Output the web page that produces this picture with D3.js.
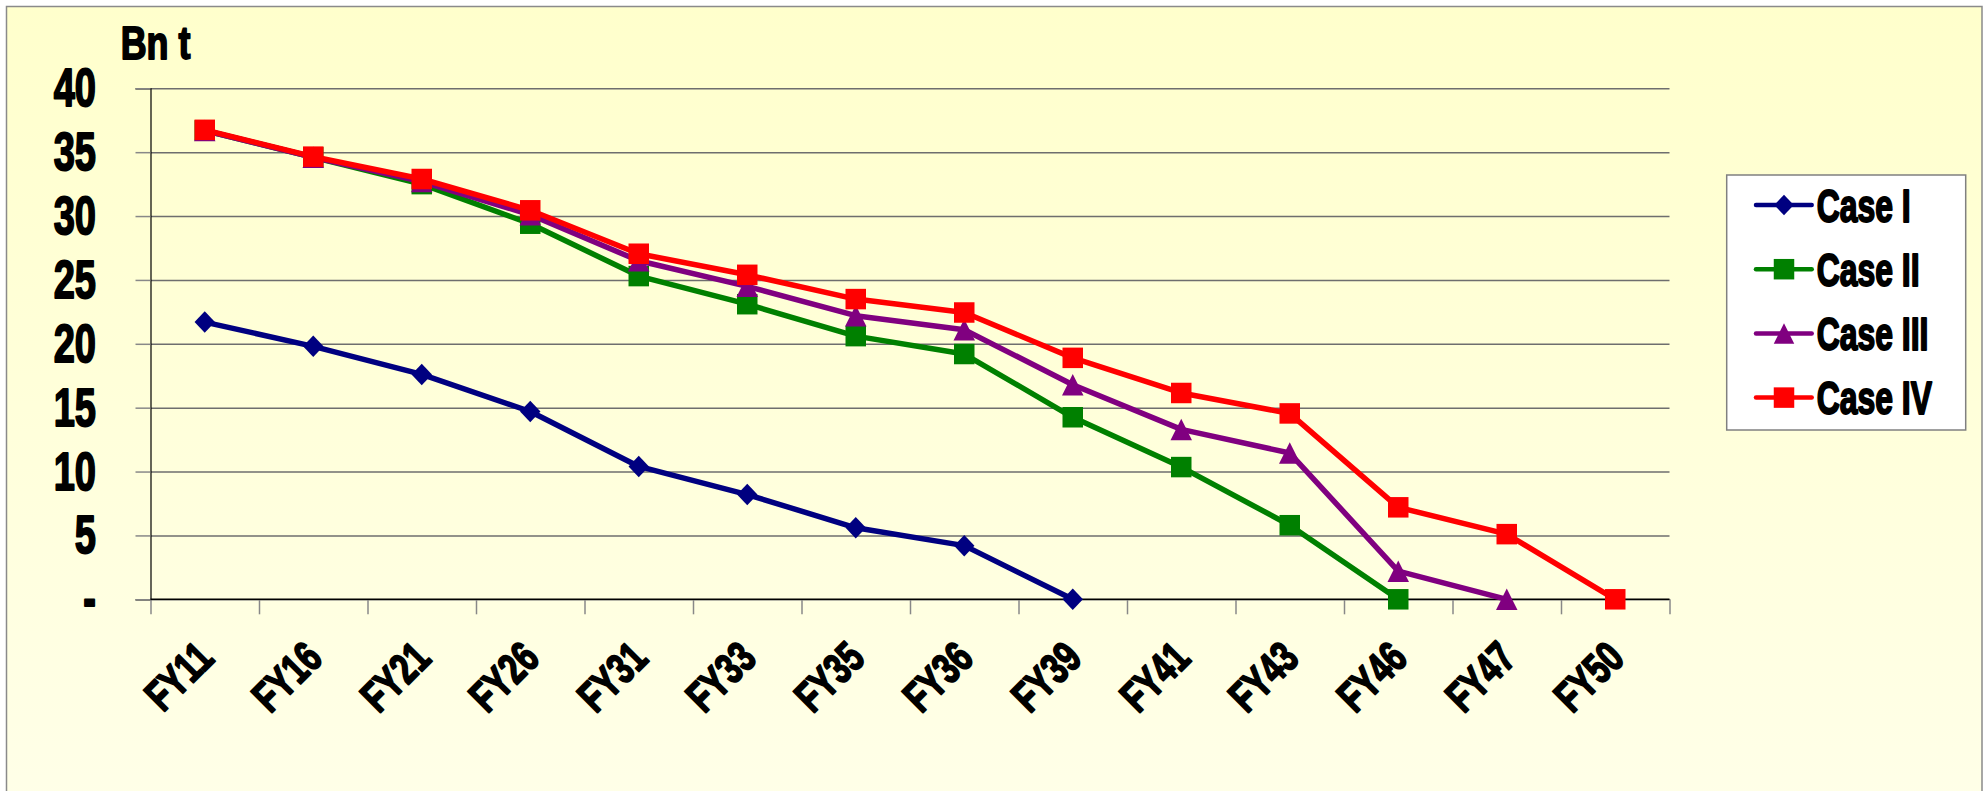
<!DOCTYPE html>
<html>
<head>
<meta charset="utf-8">
<script src="https://cdn.jsdelivr.net/npm/d3@7"></script>
<style>
  html, body { margin: 0; padding: 0; background: #ffffff; }
  svg { display: block; }
  .lbl { font-family: "Liberation Sans", Arial, sans-serif; font-weight: bold; fill: #000;
         stroke: #000; stroke-width: 1.8px; stroke-linejoin: round; paint-order: stroke; }
</style>
</head>
<body>
<svg id="chart" width="1988" height="791"></svg>
<script>
// Fiscal years along the category axis
const categories = ["FY11", "FY16", "FY21", "FY26", "FY31", "FY33", "FY35",
                    "FY36", "FY39", "FY41", "FY43", "FY46", "FY47", "FY50"];

// Series values (Bn t); null where a series has already ended
const caseI   = [21.7, 19.8, 17.6, 14.7, 10.4, 8.2, 5.6, 4.2, 0, null, null, null, null, null];
const caseII  = [36.7, 34.6, 32.5, 29.4, 25.3, 23.1, 20.6, 19.2, 14.25, 10.35, 5.8, 0, null, null];
const caseIII = [36.7, 34.6, 32.7, 30.1, 26.5, 24.5, 22.2, 21.1, 16.8, 13.3, 11.45, 2.2, 0, null];
const caseIV  = [36.75, 34.65, 32.9, 30.45, 27.05, 25.4, 23.5, 22.45, 18.9, 16.15, 14.55, 7.2, 5.1, 0];

const seriesNames = ["Case I", "Case II", "Case III", "Case IV"];
const yTicks = [0, 5, 10, 15, 20, 25, 30, 35, 40];
const yUnit = "Bn t";

const seriesValues = [caseI, caseII, caseIII, caseIV];
const seriesColors = ["#000080", "#008000", "#800080", "#ff0000"];
const seriesMarkers = ["diamond", "square", "triangle", "square"];

const svg = d3.select("#chart");

// Chart area background with a soft vertical fade
const defs = svg.append("defs");
const grad = defs.append("linearGradient").attr("id", "bg")
  .attr("x1", 0).attr("y1", 0).attr("x2", 0).attr("y2", 1);
grad.append("stop").attr("offset", "0%").attr("stop-color", "#ffffcc");
grad.append("stop").attr("offset", "100%").attr("stop-color", "#ffffe8");

svg.append("rect")
  .attr("x", 6.5).attr("y", 6.5).attr("width", 1975.5).attr("height", 800)
  .attr("fill", "url(#bg)").attr("stroke", "#8a8a8a").attr("stroke-width", 1.5);

// Plot geometry
const plotLeft = 150.5, plotRight = 1669.5, plotTop = 88.3, plotBottom = 599.3;

const y = d3.scaleLinear().domain([0, 40]).range([plotBottom, plotTop]);
const xBand = d3.scaleBand().domain(categories).range([plotLeft, plotRight]);
const xEdge = d3.scaleLinear().domain([0, categories.length]).range([plotLeft, plotRight]);
const xc = i => xBand(categories[i]) + xBand.bandwidth() / 2;

// Horizontal gridlines
const grid = svg.append("g").attr("transform", `translate(${plotLeft},0)`)
  .call(d3.axisRight(y).tickValues(yTicks).tickSize(plotRight - plotLeft).tickFormat(""));
grid.select(".domain").remove();
grid.selectAll(".tick line").attr("stroke", "#6e6e6e").attr("stroke-width", 1.5);

// Y axis with outward ticks and labels
const yAxis = svg.append("g").attr("transform", `translate(${plotLeft},0)`)
  .call(d3.axisLeft(y).tickValues(yTicks).tickSize(15)
        .tickFormat(d => d === 0 ? "-" : String(d)));
yAxis.select(".domain").attr("stroke", "#000").attr("stroke-width", 1.2);
yAxis.selectAll(".tick line").attr("stroke", "#888").attr("stroke-width", 1.5);
yAxis.selectAll(".tick text")
  .attr("class", "lbl")
  .attr("x", 0).attr("y", 0).attr("dy", null)
  .attr("text-anchor", "end")
  .attr("font-size", 50)
  .attr("transform", "translate(-54.5,17.5) scale(0.76,1.06)");

// X axis: tick marks between categories
const xTicks = svg.append("g").attr("transform", `translate(0,${plotBottom})`)
  .call(d3.axisBottom(xEdge).tickValues(d3.range(categories.length + 1)).tickSize(15).tickFormat(""));
xTicks.select(".domain").remove();
xTicks.selectAll(".tick line").attr("stroke", "#888").attr("stroke-width", 1.5);

// X axis: category labels, rotated
const xAxis = svg.append("g").attr("transform", `translate(0,${plotBottom})`)
  .call(d3.axisBottom(xBand).tickSize(0));
xAxis.select(".domain").remove();
xAxis.selectAll(".tick text")
  .attr("class", "lbl")
  .attr("x", 0).attr("y", 0).attr("dy", null)
  .attr("text-anchor", "end")
  .attr("font-size", 41)
  .attr("transform", "translate(11,61) rotate(-45) scale(0.78,1.06)");

// Category axis line
svg.append("line")
  .attr("x1", plotLeft).attr("x2", plotRight).attr("y1", plotBottom).attr("y2", plotBottom)
  .attr("stroke", "#000").attr("stroke-width", 1.5);

// Unit label above the value axis
svg.append("text").attr("class", "lbl")
  .attr("font-size", 46)
  .attr("transform", "translate(120.7,59.3) scale(0.78,1)")
  .text(yUnit);

// Marker shapes
function markerPath(kind, cx, cy, s) {
  const h = s / 2;
  if (kind === "diamond") {
    const w = h * 0.95;
    return `M${cx},${cy - h}L${cx + w},${cy}L${cx},${cy + h}L${cx - w},${cy}Z`;
  }
  if (kind === "triangle") {
    return `M${cx},${cy - h}L${cx + h},${cy + h}L${cx - h},${cy + h}Z`;
  }
  return `M${cx - h},${cy - h}h${s}v${s}h${-s}Z`;
}

const line = d3.line()
  .defined(d => d.v != null)
  .x(d => xc(d.i))
  .y(d => y(d.v));

seriesValues.forEach((vals, k) => {
  const pts = vals.map((v, i) => ({ i, v }));
  const g = svg.append("g");
  g.append("path")
    .attr("d", line(pts))
    .attr("fill", "none")
    .attr("stroke", seriesColors[k])
    .attr("stroke-width", 5.5)
    .attr("stroke-linejoin", "round");
  g.selectAll("path.mk")
    .data(pts.filter(d => d.v != null))
    .join("path")
    .attr("class", "mk")
    .attr("d", d => markerPath(seriesMarkers[k], xc(d.i), y(d.v), seriesMarkers[k] === "square" ? 20.5 : 21.5))
    .attr("fill", seriesColors[k]);
});

// Legend
const lg = svg.append("g");
lg.append("rect")
  .attr("x", 1726.7).attr("y", 175).attr("width", 239).attr("height", 255)
  .attr("fill", "#ffffff").attr("stroke", "#808080").attr("stroke-width", 1.5);

seriesNames.forEach((name, k) => {
  const cy = 205 + k * 64.2;
  lg.append("line")
    .attr("x1", 1756).attr("x2", 1811.7).attr("y1", cy).attr("y2", cy)
    .attr("stroke", seriesColors[k]).attr("stroke-width", 4.5).attr("stroke-linecap", "round");
  lg.append("path")
    .attr("d", markerPath(seriesMarkers[k], 1784, cy, 20.5))
    .attr("fill", seriesColors[k]);
  lg.append("text").attr("class", "lbl")
    .attr("font-size", 42)
    .attr("transform", `translate(1816.7,${cy + 16.7}) scale(0.76,1.08)`)
    .text(name);
});
</script>
</body>
</html>
